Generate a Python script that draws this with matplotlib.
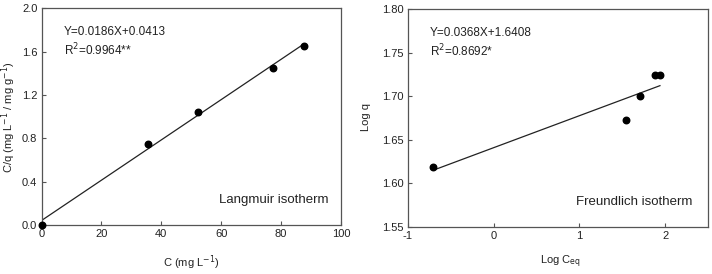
import matplotlib
matplotlib.use("Agg")
import matplotlib.pyplot as plt
import numpy as np

plt.rcParams['font.family'] = ['Liberation Sans', 'DejaVu Sans']

# Langmuir data
lang_c = [0.3, 35.4, 52.2, 77.2, 87.5]
lang_cq = [0.0, 0.75, 1.04, 1.45, 1.65]
lang_slope, lang_int = 0.0186, 0.0413

# Freundlich data
fr_logc = [-0.70, 1.55, 1.71, 1.88, 1.94]
fr_logq = [1.619, 1.673, 1.700, 1.7245, 1.7245]
fr_slope, fr_int = 0.0368, 1.6408

lang_xticks = [0, 20, 40, 60, 80, 100]
lang_yticks = [0.0, 0.4, 0.8, 1.2, 1.6, 2.0]
fr_xticks = [-1, 0, 1, 2]
fr_xticklabels = ['-1', '0', '1', '2']
fr_yticks = [1.55, 1.60, 1.65, 1.70, 1.75, 1.80]

W, H = 712, 274
fig = plt.figure(figsize=(W/100, H/100), dpi=100)
spine_col = '#555555'
tcol = '#222222'

def style(ax):
    for s in ax.spines.values():
        s.set_color(spine_col)
        s.set_linewidth(0.9)
    ax.tick_params(direction='in', length=3, width=0.8, color=spine_col,
                   labelsize=8, labelcolor=tcol, pad=3)

def ftext(px, py, s, **kw):
    fig.text(px/W, 1-py/H, s, ha='center', va='center', color=tcol, fontsize=8, **kw)

ax1 = fig.add_axes([41.5/W, 1-225/H, 299.5/W, 216.7/H])
ax1.scatter(lang_c, lang_cq, s=22, color='black', zorder=3, clip_on=False)
xl = np.array([0, lang_c[-1]])
ax1.plot(xl, lang_slope*xl + lang_int, color='#222222', lw=0.9)
ax1.set_xlim(0, 100)
ax1.set_ylim(0, 2.0)
ax1.set_xticks(lang_xticks)
ax1.set_yticks(lang_yticks)
ax1.set_yticklabels([f'{v:.1f}' for v in lang_yticks])
style(ax1)
ftext(191, 263, 'C (mg L$^{-1}$)')
ftext(8.5, 117, 'C/q (mg L$^{-1}$ / mg g$^{-1}$)', rotation=90)
ax1.text(0.075, 0.892, 'Y=0.0186X+0.0413', transform=ax1.transAxes, fontsize=8.5,
         color=tcol, va='center', ha='left')
ax1.text(0.075, 0.808, 'R$^2$=0.9964**', transform=ax1.transAxes, fontsize=8.5,
         color=tcol, va='center', ha='left')
ax1.text(0.957, 0.115, 'Langmuir isotherm', transform=ax1.transAxes, fontsize=9.5,
         color=tcol, va='center', ha='right')

ax2 = fig.add_axes([407.7/W, 1-226.7/H, 300.3/W, 217.4/H])
ax2.scatter(fr_logc, fr_logq, s=22, color='black', zorder=3)
xf = np.array([fr_logc[0], fr_logc[-1]])
ax2.plot(xf, fr_slope*xf + fr_int, color='#222222', lw=0.9)
ax2.set_xlim(-1, 2.5)
ax2.set_ylim(1.55, 1.80)
ax2.set_xticks(fr_xticks)
ax2.set_xticklabels(fr_xticklabels)
ax2.set_yticks(fr_yticks)
ax2.set_yticklabels([f'{v:.2f}' for v in fr_yticks])
style(ax2)
ftext(560, 262, 'Log C$_{\\mathrm{eq}}$')
ftext(366, 117, 'Log q', rotation=90)
ax2.text(0.074, 0.89, 'Y=0.0368X+1.6408', transform=ax2.transAxes, fontsize=8.5,
         color=tcol, va='center', ha='left')
ax2.text(0.074, 0.808, 'R$^2$=0.8692*', transform=ax2.transAxes, fontsize=8.5,
         color=tcol, va='center', ha='left')
ax2.text(0.947, 0.115, 'Freundlich isotherm', transform=ax2.transAxes, fontsize=9.5,
         color=tcol, va='center', ha='right')

fig.savefig('out.png', dpi=100)
